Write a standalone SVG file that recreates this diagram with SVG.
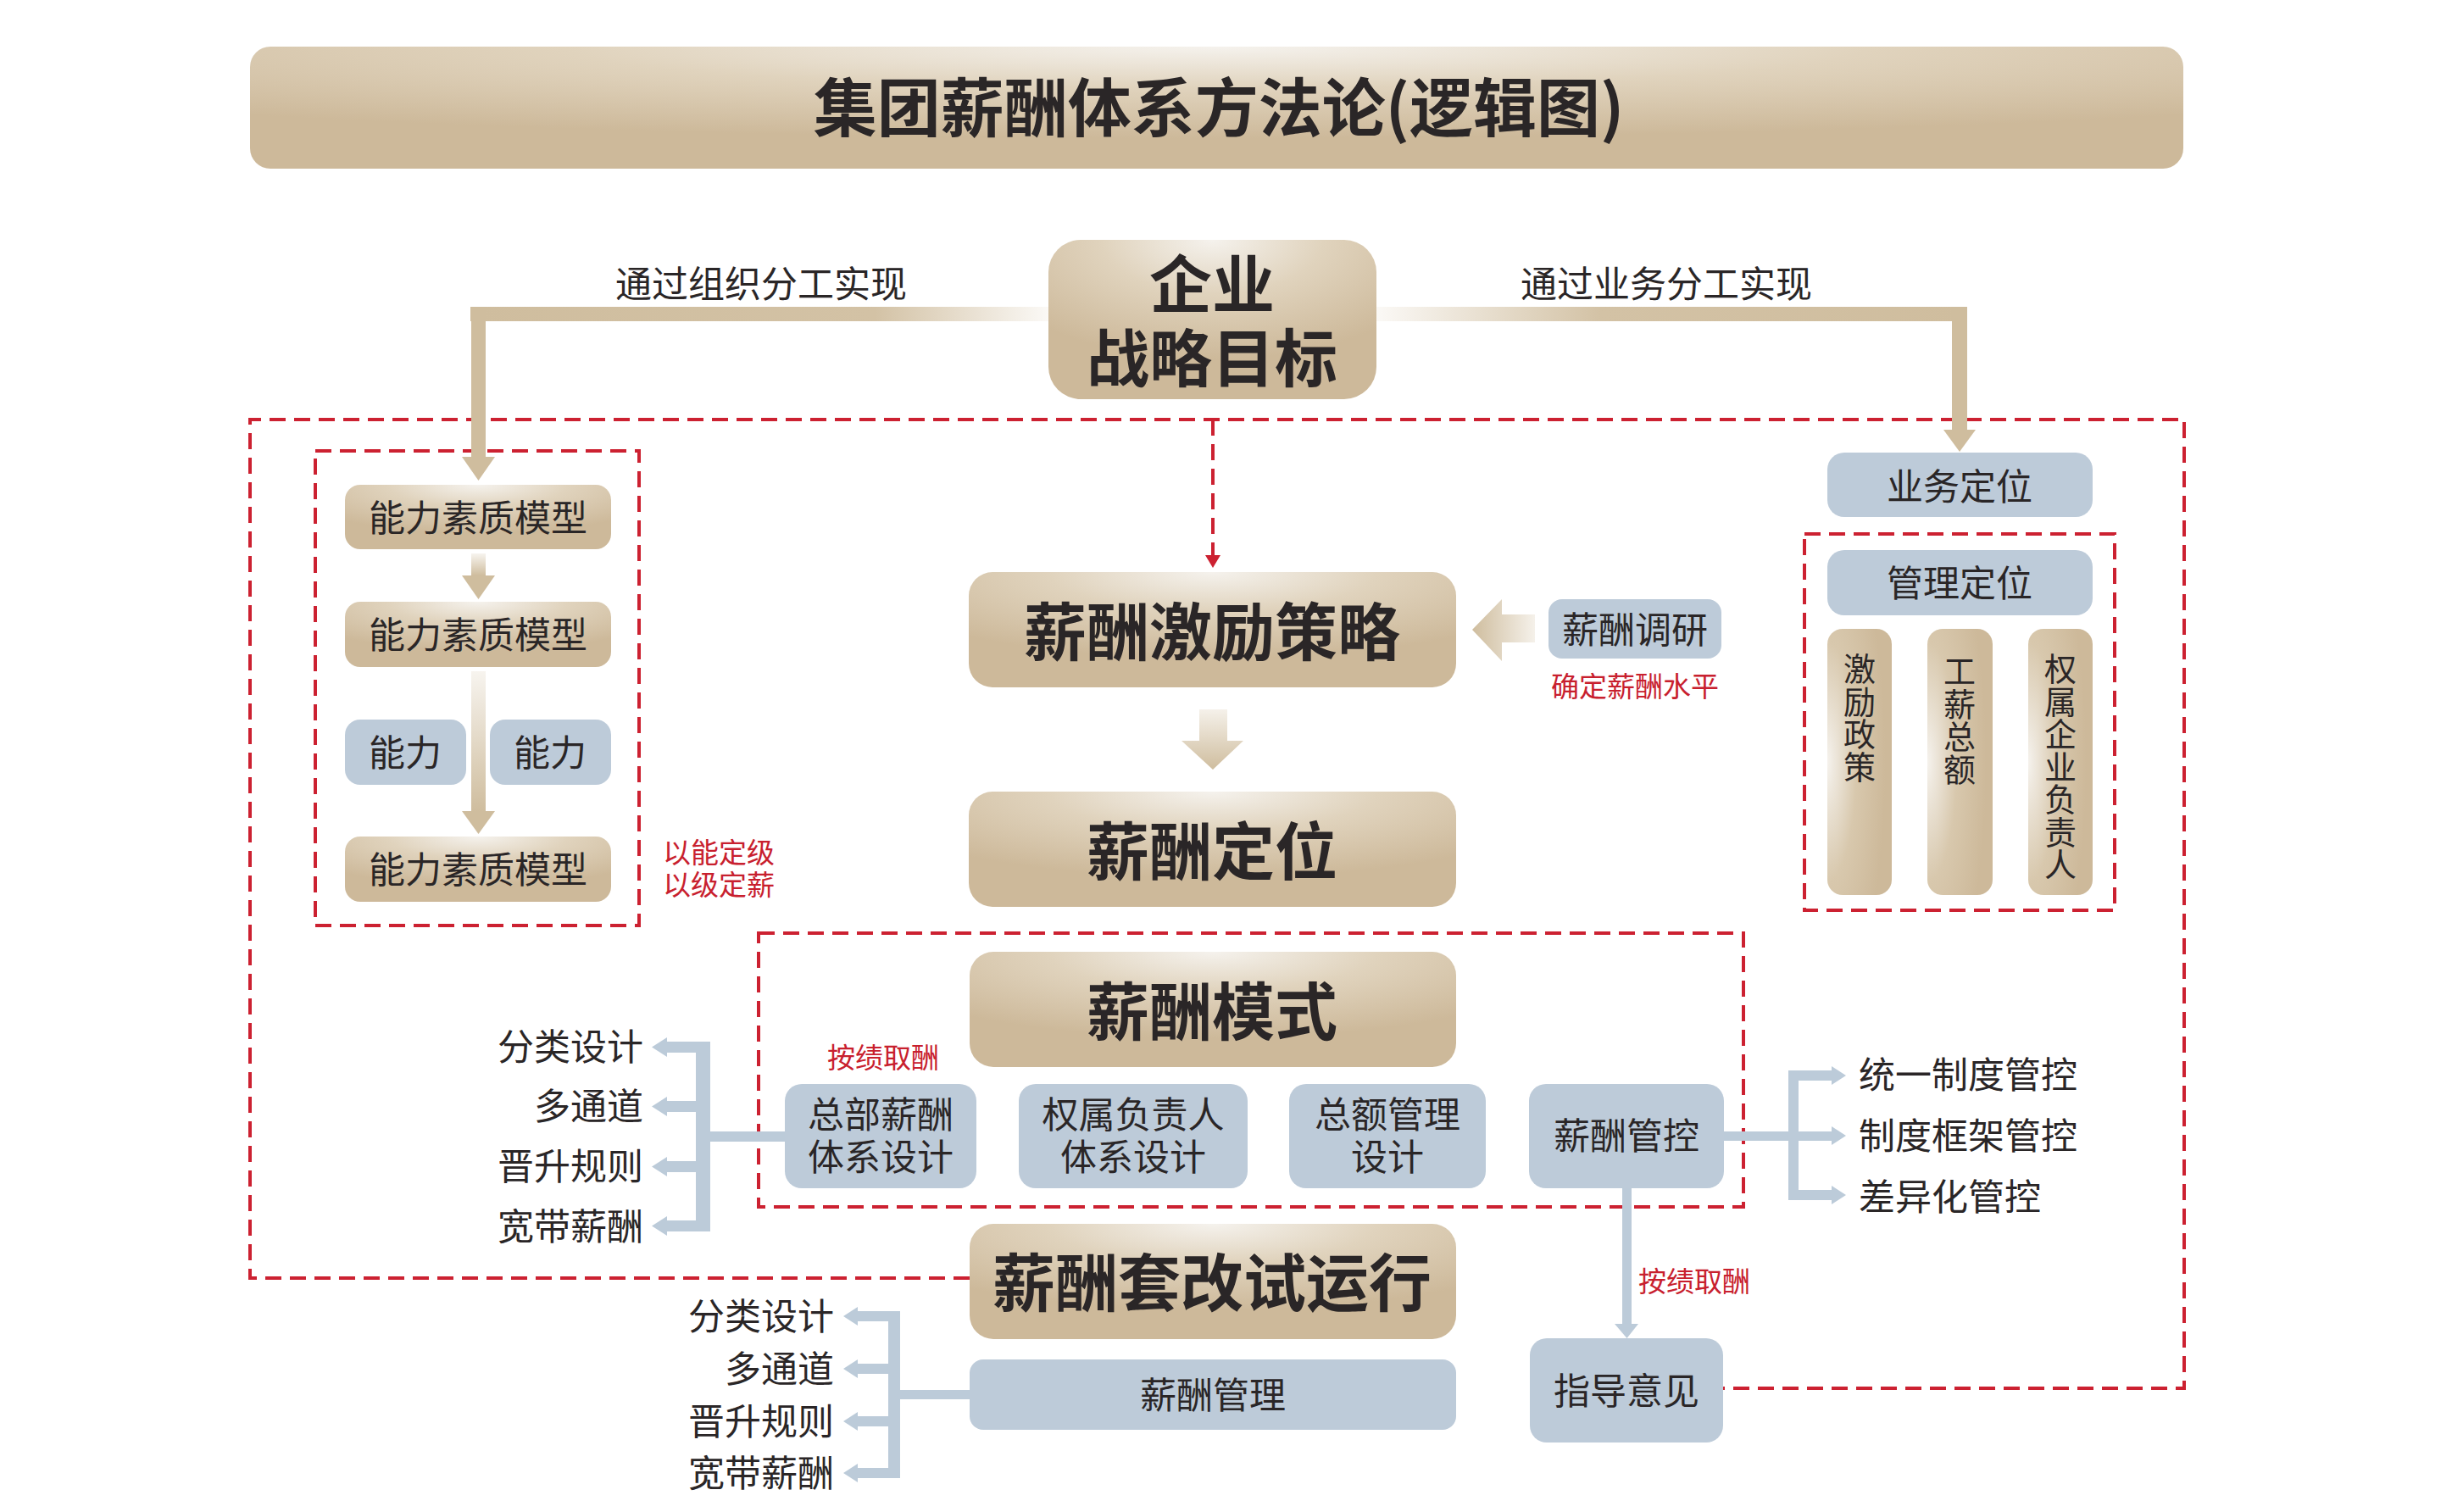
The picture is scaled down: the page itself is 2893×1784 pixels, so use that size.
<svg xmlns="http://www.w3.org/2000/svg" width="2893" height="1784" viewBox="0 0 2893 1784">
<style>
text{font-family:'Noto Sans CJK SC','Noto Sans',sans-serif;fill:#2a2627}
.c{text-anchor:middle}
.r{text-anchor:end}
.b{font-weight:700}
.big{font-size:74px}
.m{font-size:43px}
.red{font-size:33px;fill:#c8202e}
.v{font-size:38px;letter-spacing:0.5px;writing-mode:vertical-rl;text-anchor:start}
.beige{fill:url(#gBox)}
.vbeige{fill:url(#gVert)}
.blue{fill:#bdcbd9}
.dash{fill:none;stroke:#cc2131;stroke-width:4;stroke-dasharray:19 10}
.con{fill:#bccbd9}
.tan{fill:#cfbd9e}
</style>
<defs>
<radialGradient id="gBox" cx="0.5" cy="0" r="0.75" fx="0.5" fy="0">
<stop offset="0" stop-color="#f5f2ed"/>
<stop offset="0.45" stop-color="#e0d3bd"/>
<stop offset="1" stop-color="#cdb99a"/>
</radialGradient>
<radialGradient id="gVert" cx="0" cy="0.5" r="0.9" fx="0" fy="0.5">
<stop offset="0" stop-color="#f5f2ed"/>
<stop offset="0.5" stop-color="#d8c8ad"/>
<stop offset="1" stop-color="#cdb99a"/>
</radialGradient>
<linearGradient id="gLeftBar" x1="0" y1="0" x2="1" y2="0">
<stop offset="0" stop-color="#cfbd9e"/>
<stop offset="0.7" stop-color="#d3c2a5"/>
<stop offset="1" stop-color="#fbf9f6"/>
</linearGradient>
<linearGradient id="gRightBar" x1="0" y1="0" x2="1" y2="0">
<stop offset="0" stop-color="#fbf9f6"/>
<stop offset="0.38" stop-color="#d3c2a5"/>
<stop offset="1" stop-color="#cfbd9e"/>
</linearGradient>
<linearGradient id="gDown" x1="0" y1="0" x2="0" y2="1">
<stop offset="0" stop-color="#f7f4ef"/>
<stop offset="1" stop-color="#cfbd9e"/>
</linearGradient>
<linearGradient id="gLeftArrow" gradientUnits="userSpaceOnUse" x1="1737" y1="0" x2="1811" y2="0">
<stop offset="0" stop-color="#cfbd9e"/>
<stop offset="1" stop-color="#f5f1ea"/>
</linearGradient>
<linearGradient id="gDownArrow" gradientUnits="userSpaceOnUse" x1="0" y1="837" x2="0" y2="908">
<stop offset="0" stop-color="#f5f1ea"/>
<stop offset="1" stop-color="#cfbd9e"/>
</linearGradient>
</defs>
<rect width="2893" height="1784" fill="#ffffff"/>

<g id="title">
<rect x="295" y="55" width="2281" height="144" rx="24" class="beige"/>
<text x="1438" y="155" class="c b" font-size="75">集团薪酬体系方法论(逻辑图)</text>
</g>

<g id="frames">
<path class="dash" d="M1144 1508 H295 V495 H2577 V1638 H2033"/>
<rect class="dash" x="372" y="532" width="382" height="560"/>
<rect class="dash" x="2129" y="630" width="366" height="444"/>
<rect class="dash" x="895" y="1101" width="1162" height="323"/>
</g>

<g id="connectors">
<rect x="555" y="362" width="682" height="17" fill="url(#gLeftBar)"/>
<rect x="556" y="362" width="17" height="177" class="tan"/>
<polygon points="545,539 584,539 564.5,567" class="tan"/>
<rect x="1624" y="362" width="697" height="17" fill="url(#gRightBar)"/>
<rect x="2303" y="362" width="18" height="145" class="tan"/>
<polygon points="2293,507 2331,507 2312,533" class="tan"/>
<path class="dash" d="M1431 495 V656"/>
<polygon points="1422,655 1440,655 1431,670" fill="#cc2131"/>
<rect x="556" y="653" width="17" height="26" fill="url(#gDown)"/>
<polygon points="545,679 584,679 564.5,707" class="tan"/>
<rect x="556" y="792" width="17" height="165" fill="url(#gDown)"/>
<polygon points="545,957 584,957 564.5,984" class="tan"/>
<polygon points="1737,743 1772,707 1772,725 1811,725 1811,758 1772,758 1772,780" fill="url(#gLeftArrow)"/>
<polygon points="1415,837 1448,837 1448,874 1467,874 1431,908 1394,874 1415,874" fill="url(#gDownArrow)"/>
<rect x="1914" y="1402" width="11" height="160" class="con"/>
<polygon points="1905,1562 1933,1562 1919.5,1579" class="con"/>
<rect x="2034" y="1335" width="88" height="11" class="con"/>
<rect x="2110" y="1263" width="12" height="153" class="con"/>
<rect x="2110" y="1263" width="51" height="12" class="con"/>
<polygon points="2161,1258 2161,1280 2178,1269" class="con"/>
<rect x="2122" y="1335" width="39" height="11" class="con"/>
<polygon points="2161,1329 2161,1351 2178,1340" class="con"/>
<rect x="2110" y="1404" width="51" height="12" class="con"/>
<polygon points="2161,1399 2161,1421 2178,1410" class="con"/>
<rect x="821" y="1335" width="105" height="12" class="con"/>
<rect x="821" y="1229" width="17" height="224" class="con"/>
<rect x="787" y="1229" width="51" height="13" class="con"/>
<polygon points="787,1224 787,1247 769,1235.5" class="con"/>
<rect x="787" y="1299" width="34" height="13" class="con"/>
<polygon points="787,1294 787,1317 769,1305.5" class="con"/>
<rect x="787" y="1370" width="34" height="13" class="con"/>
<polygon points="787,1365 787,1388 769,1376.5" class="con"/>
<rect x="787" y="1440" width="51" height="13" class="con"/>
<polygon points="787,1435 787,1458 769,1446.5" class="con"/>
<rect x="1048" y="1640" width="96" height="11" class="con"/>
<rect x="1048" y="1547" width="14" height="197" class="con"/>
<rect x="1012" y="1547" width="50" height="12" class="con"/>
<polygon points="1012,1542 1012,1564 995,1553" class="con"/>
<rect x="1012" y="1609" width="36" height="12" class="con"/>
<polygon points="1012,1604 1012,1626 995,1615" class="con"/>
<rect x="1012" y="1671" width="36" height="12" class="con"/>
<polygon points="1012,1666 1012,1688 995,1677" class="con"/>
<rect x="1012" y="1732" width="50" height="12" class="con"/>
<polygon points="1012,1727 1012,1749 995,1738" class="con"/>
</g>

<g id="labels">
<text x="898" y="351" class="c m">通过组织分工实现</text>
<text x="1966" y="351" class="c m">通过业务分工实现</text>
<text x="782" y="1018" class="red">以能定级</text>
<text x="782" y="1056" class="red">以级定薪</text>
<text x="1929" y="822" class="c red">确定薪酬水平</text>
<text x="1042" y="1260" class="c red">按绩取酬</text>
<text x="1999" y="1524" class="c red">按绩取酬</text>
<text x="759" y="1251" class="r m">分类设计</text>
<text x="759" y="1321" class="r m">多通道</text>
<text x="759" y="1392" class="r m">晋升规则</text>
<text x="759" y="1463" class="r m">宽带薪酬</text>
<text x="984" y="1569" class="r m">分类设计</text>
<text x="984" y="1631" class="r m">多通道</text>
<text x="984" y="1693" class="r m">晋升规则</text>
<text x="984" y="1754" class="r m">宽带薪酬</text>
<text x="2193" y="1284" class="m">统一制度管控</text>
<text x="2193" y="1356" class="m">制度框架管控</text>
<text x="2193" y="1428" class="m">差异化管控</text>
</g>

<g id="n-goal">
<rect x="1237" y="283" width="387" height="188" rx="38" class="beige"/>
<text x="1430" y="363" class="c b big">企业</text>
<text x="1430" y="450" class="c b big">战略目标</text>
</g>

<g id="n-cap1"><rect x="407" y="572" width="314" height="76" rx="18" class="beige"/><text x="564" y="627" class="c m">能力素质模型</text></g>
<g id="n-cap2"><rect x="407" y="710" width="314" height="77" rx="18" class="beige"/><text x="564" y="765" class="c m">能力素质模型</text></g>
<g id="n-abl1"><rect x="407" y="849" width="143" height="77" rx="18" class="blue"/><text x="478" y="904" class="c m">能力</text></g>
<g id="n-abl2"><rect x="578" y="849" width="143" height="77" rx="18" class="blue"/><text x="649" y="904" class="c m">能力</text></g>
<g id="n-cap3"><rect x="407" y="987" width="314" height="77" rx="18" class="beige"/><text x="564" y="1042" class="c m">能力素质模型</text></g>

<g id="n-strategy"><rect x="1143" y="675" width="575" height="136" rx="28" class="beige"/><text x="1430" y="773" class="c b big">薪酬激励策略</text></g>
<g id="n-survey"><rect x="1827" y="707" width="204" height="70" rx="16" class="blue"/><text x="1929" y="759" class="c m">薪酬调研</text></g>
<g id="n-position"><rect x="1143" y="934" width="575" height="136" rx="28" class="beige"/><text x="1430" y="1032" class="c b big">薪酬定位</text></g>
<g id="n-mode"><rect x="1144" y="1123" width="574" height="136" rx="28" class="beige"/><text x="1430" y="1221" class="c b big">薪酬模式</text></g>
<g id="n-hq"><rect x="926" y="1279" width="226" height="123" rx="20" class="blue"/><text x="1039" y="1331" class="c m">总部薪酬</text><text x="1039" y="1381" class="c m">体系设计</text></g>
<g id="n-sub"><rect x="1202" y="1279" width="270" height="123" rx="20" class="blue"/><text x="1337" y="1331" class="c m">权属负责人</text><text x="1337" y="1381" class="c m">体系设计</text></g>
<g id="n-total"><rect x="1521" y="1279" width="232" height="123" rx="20" class="blue"/><text x="1637" y="1331" class="c m">总额管理</text><text x="1637" y="1381" class="c m">设计</text></g>
<g id="n-control"><rect x="1804" y="1279" width="230" height="123" rx="20" class="blue"/><text x="1919" y="1356" class="c m">薪酬管控</text></g>
<g id="n-trial"><rect x="1144" y="1444" width="574" height="136" rx="28" class="beige"/><text x="1430" y="1541" class="c b big">薪酬套改试运行</text></g>
<g id="n-manage"><rect x="1144" y="1604" width="574" height="83" rx="16" class="blue"/><text x="1431" y="1662" class="c m">薪酬管理</text></g>
<g id="n-guide"><rect x="1805" y="1579" width="228" height="123" rx="20" class="blue"/><text x="1919" y="1657" class="c m">指导意见</text></g>

<g id="n-business"><rect x="2156" y="534" width="313" height="76" rx="20" class="blue"/><text x="2312" y="590" class="c m">业务定位</text></g>
<g id="n-mgmt"><rect x="2156" y="649" width="313" height="77" rx="20" class="blue"/><text x="2312" y="704" class="c m">管理定位</text></g>
<g id="n-incentive"><rect x="2156" y="742" width="76" height="314" rx="18" class="vbeige"/>
<text x="2194" y="770" class="v">激励政策</text></g>
<g id="n-wage"><rect x="2274" y="742" width="77" height="314" rx="18" class="vbeige"/>
<text x="2312" y="773" class="v">工薪总额</text></g>
<g id="n-leader"><rect x="2393" y="742" width="76" height="314" rx="18" class="vbeige"/>
<text x="2431" y="770" class="v">权属企业负责人</text></g>
</svg>
